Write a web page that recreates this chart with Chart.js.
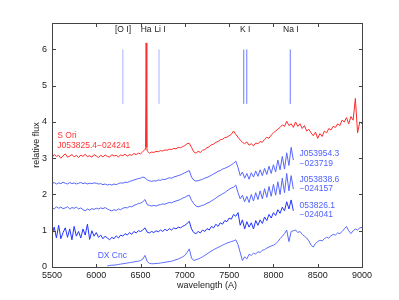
<!DOCTYPE html>
<html>
<head>
<meta charset="utf-8">
<script src="https://cdn.jsdelivr.net/npm/chart.js@4.4.1/dist/chart.umd.min.js"></script>
<style>
  html, body { margin: 0; padding: 0; background: #fff; }
  #wrap { width: 399px; height: 300px; }
</style>
</head>
<body>
<div id="wrap"><canvas id="spectra"></canvas></div>
<script>
const STEP = 25;

const xTicks = [5500, 6000, 6500, 7000, 7500, 8000, 8500, 9000];
const yTicks = [0, 1, 2, 3, 4, 5, 6];

// S Ori J053825.4-024241, 5500..9000
const redStart = 5500;
const redFlux = [
  3.02,3.10,3.05,3.08,3.00,3.07,3.12,3.03,3.06,3.10,3.04,3.08,3.02,3.09,3.05,3.11,3.04,3.07,3.03,3.10,
  3.06,3.02,3.08,3.04,3.09,3.05,3.03,3.10,3.06,3.08,3.04,3.09,3.07,3.11,3.06,3.10,3.08,3.13,3.10,3.14,
  3.12,3.18,3.25,3.20,3.14,3.17,3.16,3.19,3.18,3.21,3.20,3.23,3.22,3.25,3.24,3.27,3.26,3.30,3.29,3.32,
  3.35,3.40,3.41,3.30,3.18,3.14,3.19,3.16,3.22,3.24,3.29,3.32,3.37,3.39,3.44,3.46,3.51,3.52,3.57,3.58,
  3.62,3.66,3.75,3.66,3.58,3.50,3.44,3.40,3.45,3.36,3.40,3.34,3.42,3.40,3.46,3.44,3.52,3.58,3.55,3.64,
  3.70,3.75,3.80,3.85,3.92,3.88,4.02,3.90,3.95,3.85,4.00,3.88,3.95,3.82,3.90,3.75,3.80,3.70,3.62,3.72,
  3.55,3.68,3.60,3.75,3.70,3.82,3.78,3.88,3.85,3.95,3.90,4.05,4.00,4.12,3.95,4.15,4.05,4.65,3.70,4.00,
  3.95
];
// narrow H-alpha emission, [wavelength, flux]
const haPeak = [[6556, 3.30], [6563, 6.18], [6570, 3.30]];

// J053954.3-023719, 5500..8225
const blue1Start = 5500;
const blue1Flux = [
  2.30,2.33,2.29,2.32,2.30,2.34,2.31,2.29,2.33,2.30,2.32,2.29,2.31,2.33,2.30,2.32,2.29,2.31,2.30,2.32,
  2.31,2.29,2.30,2.27,2.29,2.26,2.28,2.26,2.29,2.27,2.30,2.32,2.31,2.34,2.33,2.36,2.38,2.40,2.42,2.44,
  2.45,2.48,2.46,2.40,2.38,2.36,2.38,2.37,2.40,2.39,2.42,2.41,2.44,2.46,2.45,2.48,2.50,2.52,2.54,2.57,
  2.60,2.63,2.66,2.48,2.40,2.37,2.38,2.40,2.42,2.45,2.47,2.50,2.53,2.57,2.60,2.64,2.66,2.70,2.72,2.75,
  2.78,2.82,2.86,2.92,2.75,2.52,2.62,2.45,2.58,2.42,2.60,2.48,2.65,2.50,2.68,2.52,2.72,2.55,2.78,2.58,
  2.82,2.62,2.95,2.68,3.05,2.70,3.15,2.80,3.30,2.95
];

// J053838.6-024157, 5500..8225
const blue2Start = 5500;
const blue2Flux = [
  1.64,1.60,1.66,1.62,1.65,1.61,1.63,1.66,1.60,1.64,1.62,1.65,1.60,1.63,1.58,1.55,1.60,1.57,1.61,1.59,
  1.62,1.60,1.63,1.61,1.64,1.60,1.57,1.55,1.58,1.56,1.60,1.58,1.62,1.64,1.63,1.67,1.66,1.70,1.72,1.75,
  1.76,1.80,1.86,1.72,1.70,1.68,1.70,1.68,1.71,1.72,1.74,1.73,1.76,1.78,1.77,1.80,1.82,1.84,1.86,1.90,
  1.92,1.96,1.98,1.84,1.75,1.68,1.66,1.68,1.70,1.72,1.76,1.78,1.82,1.86,1.90,1.95,1.98,2.02,2.05,2.10,
  2.14,2.18,2.20,2.26,2.05,1.88,1.98,1.80,1.95,1.78,2.00,1.82,2.05,1.86,2.10,1.88,2.16,1.92,2.22,1.95,
  2.28,1.98,2.35,2.00,2.45,2.05,2.58,2.10,2.52,2.15
];

// 053826.1-024041, 5500..8225
const blue3Start = 5500;
const blue3Flux = [
  0.90,1.10,0.80,1.15,0.78,0.95,1.08,0.82,1.05,0.75,1.12,0.85,0.98,0.80,1.05,0.88,1.18,0.76,1.00,0.85,
  0.95,0.82,0.88,0.78,0.85,0.80,0.75,0.82,0.78,0.86,0.80,0.88,0.85,0.92,0.88,0.95,0.90,0.98,0.94,1.00,
  0.98,1.02,1.08,0.96,0.94,0.98,0.95,1.00,0.97,1.02,0.98,1.04,1.00,1.06,1.02,1.08,1.05,1.10,1.08,1.12,
  1.15,1.20,1.26,1.05,0.95,0.92,0.98,0.94,1.02,0.98,1.06,1.02,1.12,1.08,1.18,1.12,1.22,1.18,1.28,1.25,
  1.35,1.32,1.45,1.40,1.50,1.15,1.30,1.05,1.25,1.10,1.22,1.05,1.28,1.15,1.30,1.20,1.38,1.28,1.45,1.35,
  1.50,1.42,1.58,1.48,1.65,1.55,1.80,1.60,1.85,1.55
];

// DX Cnc, 6125..9000
const dxStart = 6125;
const dxFlux = [
  0.03,0.04,0.05,0.05,0.06,0.07,0.08,0.09,0.10,0.11,0.12,0.13,0.14,0.15,0.16,
  0.18,0.22,0.32,0.15,0.10,0.09,0.09,0.10,0.10,0.11,0.12,0.13,0.14,0.15,0.16,0.18,0.20,0.22,0.25,0.28,
  0.32,0.40,0.50,0.25,0.18,0.20,0.22,0.25,0.28,0.32,0.36,0.40,0.44,0.48,0.51,0.54,0.57,0.60,0.63,0.66,
  0.68,0.70,0.72,0.75,0.62,0.40,0.18,0.28,0.22,0.35,0.32,0.38,0.36,0.42,0.40,0.46,0.48,0.52,0.55,0.58,
  0.60,0.64,0.70,0.78,0.85,0.92,1.02,0.70,0.98,1.00,1.02,0.95,0.98,0.90,0.85,0.80,0.72,0.60,0.55,0.65,
  0.70,0.74,0.72,0.78,0.82,0.80,0.86,0.90,0.88,0.94,0.92,0.98,1.05,1.12,1.00,0.92,1.00,1.05,1.02,1.08,
  1.09
];

// spectral features marked at the top
const lineWaves = [6300, 6708, 7665, 7699, 8190];
const lineColors = ['#aab2ff', '#aab2ff', '#6a7aff', '#6a7aff', '#6a7aff'];
const lineRange = [4.5, 6.0];

function toPoints(start, flux) {
    return flux.map((f, i) => ({ x: start + i * STEP, y: f }));
}

const redPoints = toPoints(redStart, redFlux)
    .concat(haPeak.map(p => ({ x: p[0], y: p[1] })))
    .sort((a, b) => a.x - b.x);

function spectrum(points, color) {
    return {
        data: points,
        borderColor: color,
        borderWidth: 1,
        pointRadius: 0,
        tension: 0,
        fill: false
    };
}

const datasets = [
    spectrum(toPoints(dxStart, dxFlux), '#5a6aff'),
    spectrum(toPoints(blue3Start, blue3Flux), '#2233ff'),
    spectrum(toPoints(blue2Start, blue2Flux), '#5566ff'),
    spectrum(toPoints(blue1Start, blue1Flux), '#5566ff'),
    spectrum(redPoints, '#ff2a2a')
];
lineWaves.forEach((w, i) => {
    datasets.push(spectrum([{ x: w, y: lineRange[0] }, { x: w, y: lineRange[1] }], lineColors[i]));
});

// text placed in data coordinates
const notes = [
    { t: '[O I]', x: 6302, y: 6.56, c: '#222', a: 'center' },
    { t: 'Ha', x: 6562, y: 6.56, c: '#222', a: 'center' },
    { t: 'Li I', x: 6720, y: 6.56, c: '#222', a: 'center' },
    { t: 'K I', x: 7682, y: 6.56, c: '#222', a: 'center' },
    { t: 'Na I', x: 8197, y: 6.56, c: '#222', a: 'center' },
    { t: 'S Ori', x: 5560, y: 3.61, c: '#ff3333', a: 'left' },
    { t: 'J053825.4\u2212024241', x: 5560, y: 3.34, c: '#ff3333', a: 'left' },
    { t: 'J053954.3', x: 8295, y: 3.14, c: '#4d5fff', a: 'left' },
    { t: '\u2212023719', x: 8295, y: 2.85, c: '#4d5fff', a: 'left' },
    { t: 'J053838.6', x: 8295, y: 2.42, c: '#4d5fff', a: 'left' },
    { t: '\u2212024157', x: 8295, y: 2.16, c: '#4d5fff', a: 'left' },
    { t: '053826.1', x: 8295, y: 1.70, c: '#4d5fff', a: 'left' },
    { t: '\u2212024041', x: 8295, y: 1.43, c: '#4d5fff', a: 'left' },
    { t: 'DX Cnc', x: 6016, y: 0.32, c: '#4d5fff', a: 'left' }
];

const FONT = '"Liberation Sans", Arial, sans-serif';

// box round the axes with inward ticks on all four sides, plus the text notes
const framePlugin = {
    id: 'frame',
    afterDatasetsDraw(chart) {
        const { ctx, chartArea: a, scales: { x, y } } = chart;
        const L = Math.round(a.left) + 0.5, R = Math.round(a.right) + 0.5;
        const T = Math.round(a.top) + 0.5, B = Math.round(a.bottom) + 0.5;
        ctx.save();
        ctx.strokeStyle = '#444';
        ctx.lineWidth = 1;
        ctx.strokeRect(L, T, R - L, B - T);
        ctx.beginPath();
        xTicks.forEach(v => {
            const px = Math.round(x.getPixelForValue(v)) + 0.5;
            ctx.moveTo(px, B); ctx.lineTo(px, B - 3.5);
            ctx.moveTo(px, T); ctx.lineTo(px, T + 3.5);
        });
        yTicks.forEach(v => {
            const py = Math.round(y.getPixelForValue(v)) + 0.5;
            ctx.moveTo(L, py); ctx.lineTo(L + 3.5, py);
            ctx.moveTo(R, py); ctx.lineTo(R - 3.5, py);
        });
        ctx.stroke();

        ctx.font = '8.5px ' + FONT;
        ctx.textBaseline = 'middle';
        notes.forEach(n => {
            ctx.fillStyle = n.c;
            ctx.textAlign = n.a;
            ctx.fillText(n.t, x.getPixelForValue(n.x), y.getPixelForValue(n.y));
        });
        ctx.restore();
    }
};

new Chart(document.getElementById('spectra'), {
    type: 'line',
    data: { datasets: datasets },
    options: {
        responsive: true,
        maintainAspectRatio: false,
        animation: false,
        layout: { padding: { left: 31, right: 37, top: 23, bottom: 9 } },
        plugins: { legend: { display: false }, tooltip: { enabled: false } },
        scales: {
            x: {
                type: 'linear',
                min: 5500,
                max: 9000,
                afterBuildTicks: s => { s.ticks = xTicks.map(v => ({ value: v })); },
                afterFit: s => { s.height = 24; },
                grid: { display: false, drawTicks: false },
                border: { display: false },
                ticks: { padding: 3, color: '#222', font: { family: FONT, size: 9 }, callback: v => String(v) },
                title: { display: true, text: 'wavelength (A)', color: '#222', padding: 0, font: { family: FONT, size: 9 } }
            },
            y: {
                type: 'linear',
                min: 0,
                max: 6.73,
                afterBuildTicks: s => { s.ticks = yTicks.map(v => ({ value: v })); },
                afterFit: s => { s.width = 21; },
                grid: { display: false, drawTicks: false },
                border: { display: false },
                ticks: { padding: 5, color: '#222', font: { family: FONT, size: 9 } },
                title: { display: true, text: 'relative flux', color: '#222', padding: 0, font: { family: FONT, size: 9 } }
            }
        }
    },
    plugins: [framePlugin]
});
</script>
</body>
</html>
